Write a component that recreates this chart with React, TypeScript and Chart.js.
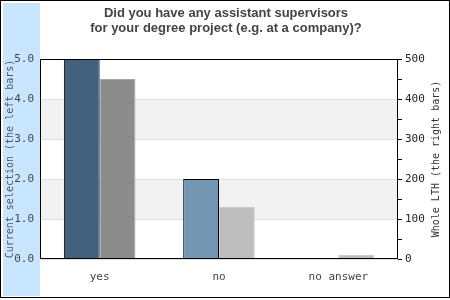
import React, { useEffect, useRef } from "react";
import { Chart, registerables } from "chart.js";

Chart.register(...registerables);

const titleLines = ["Did you have any assistant supervisors", "for your degree project (e.g. at a company)?"];
const categories = ["yes", "no", "no answer"];
const currentValues = [5, 2, 0];
const lthValues = [450, 130, 10];
const currentColors = ["#42617f", "#7396b2", "#7396b2"];
const lthColors = ["#8c8c8c", "#bebebe", "#bebebe"];
const lthBorders = ["#a6a6a6", "#cccccc", "#cccccc"];
const leftAxisTitle = "Current selection (the left bars)";
const rightAxisTitle = "Whole LTH (the right bars)";

const MONO = "'DejaVu Sans Mono', monospace";

const decorPlugin = {
  id: "decor",
  beforeDraw(chart: any) {
    const { ctx, chartArea } = chart;
    ctx.save();
    ctx.fillStyle = "#ffffff";
    ctx.fillRect(0, 0, chart.width, chart.height);
    ctx.fillStyle = "#c8e6ff";
    ctx.fillRect(3, 3, 37, 293);
    ctx.strokeStyle = "#000000";
    ctx.lineWidth = 1;
    ctx.strokeRect(0.5, 0.5, 449, 297);
    // alternating bands
    const y = chart.scales.y;
    ctx.fillStyle = "#f2f2f2";
    [[1, 2], [3, 4]].forEach(([a, b]) => {
      const top = y.getPixelForValue(b);
      const bot = y.getPixelForValue(a);
      ctx.fillRect(chartArea.left, top, chartArea.right - chartArea.left, bot - top);
    });
    // title
    ctx.fillStyle = "#444444";
    ctx.font = "bold 13px 'Liberation Sans', Arial, sans-serif";
    ctx.textAlign = "center";
    ctx.textBaseline = "alphabetic";
    ctx.fillText(titleLines[0], 226, 17);
    ctx.fillText(titleLines[1], 226, 32);
    ctx.restore();
  },
  afterDraw(chart: any) {
    const { ctx, chartArea } = chart;
    ctx.save();
    ctx.strokeStyle = "#000000";
    ctx.lineWidth = 1;
    ctx.strokeRect(
      chartArea.left + 0.5,
      chartArea.top + 0.5,
      chartArea.right - chartArea.left - 1,
      chartArea.bottom - chartArea.top - 1
    );
    const midY = (chartArea.top + chartArea.bottom) / 2;
    ctx.fillStyle = "#555555";
    ctx.font = "10px " + MONO;
    ctx.textAlign = "center";
    ctx.textBaseline = "middle";
    ctx.translate(10, midY);
    ctx.rotate(-Math.PI / 2);
    ctx.fillText(leftAxisTitle, 0, 0);
    ctx.restore();
    ctx.save();
    ctx.fillStyle = "#333333";
    ctx.font = "10px " + MONO;
    ctx.textAlign = "center";
    ctx.textBaseline = "middle";
    ctx.translate(436, midY);
    ctx.rotate(-Math.PI / 2);
    ctx.fillText(rightAxisTitle, 0, 0);
    ctx.restore();
  },
};

export default function App() {
  const ref = useRef<HTMLCanvasElement | null>(null);
  useEffect(() => {
    if (!ref.current) return;
    const chart = new Chart(ref.current, {
      type: "bar",
      data: {
        labels: categories,
        datasets: [
          {
            label: "Current selection",
            data: currentValues,
            yAxisID: "y",
            backgroundColor: currentColors,
            borderColor: "#000000",
            borderWidth: 1,
            barPercentage: 1,
            categoryPercentage: 0.6,
          },
          {
            label: "Whole LTH",
            data: lthValues,
            yAxisID: "y2",
            backgroundColor: lthColors,
            borderColor: lthBorders,
            borderWidth: 1,
            barPercentage: 1,
            categoryPercentage: 0.6,
          },
        ],
      },
      options: {
        animation: false,
        responsive: false,
        maintainAspectRatio: false,
        layout: { padding: { top: 59, left: 0, right: 0, bottom: 0 } },
        plugins: { legend: { display: false }, tooltip: { enabled: false }, title: { display: false } },
        scales: {
          x: {
            grid: { display: false },
            border: { display: false },
            ticks: { color: "#444444", font: { family: MONO, size: 11 }, padding: 4 },
            afterFit: (s: any) => { s.height = 41; },
          },
          y: {
            position: "left",
            min: 0,
            max: 5,
            ticks: {
              stepSize: 1,
              color: "#444444",
              font: { family: MONO, size: 11 },
              padding: 6,
              callback: (v: any) => Number(v).toFixed(1),
            },
            grid: { color: "#e0e0e0", drawTicks: false },
            border: { display: false },
            afterFit: (s: any) => { s.width = 40; },
          },
          y2: {
            position: "right",
            min: 0,
            max: 500,
            ticks: {
              stepSize: 50,
              color: "#222222",
              font: { family: MONO, size: 11 },
              padding: 3,
              callback: (v: any) => (Number(v) % 100 === 0 ? String(v) : ""),
            },
            grid: { drawOnChartArea: false, drawTicks: true, tickLength: 4, color: "#000000" },
            border: { display: false },
            afterFit: (s: any) => { s.width = 52; },
          },
        },
      },
      plugins: [decorPlugin],
    } as any);
    return () => chart.destroy();
  }, []);
  return (
    <div style={{ position: "absolute", left: 0, top: 0, width: 450, height: 300 }}>
      <canvas ref={ref} width={450} height={300} style={{ width: 450, height: 300 }} />
    </div>
  );
}
